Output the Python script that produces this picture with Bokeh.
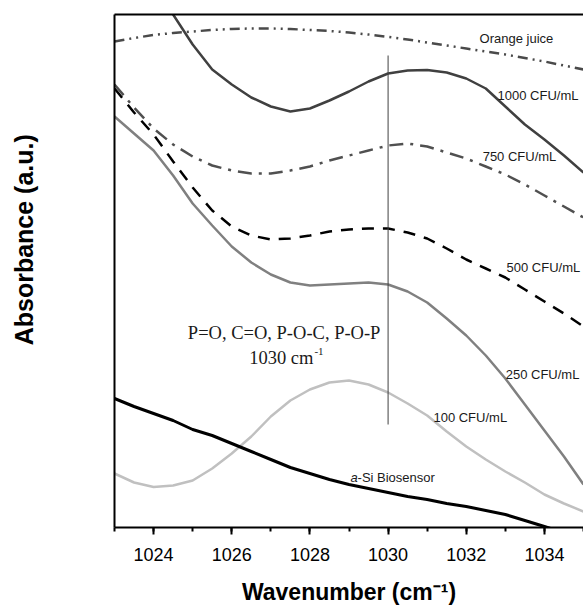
from bokeh.plotting import figure
from bokeh.models import Range1d, SingleIntervalTicker, FixedTicker, LinearAxis, ColumnDataSource
from bokeh.core.properties import value
from bokeh.embed import file_html
from bokeh.resources import INLINE

# ---------------- data (absorbance, arbitrary units) ----------------
wavenumber = [1023.0, 1023.5, 1024.0, 1024.5, 1025.0, 1025.5, 1026.0, 1026.5, 1027.0,
              1027.5, 1028.0, 1028.5, 1029.0, 1029.5, 1030.0, 1030.5, 1031.0, 1031.5,
              1032.0, 1032.5, 1033.0, 1033.5, 1034.0, 1034.5, 1035.0]

orange_juice = [4.86, 4.895, 4.925, 4.945, 4.96, 4.975, 4.985, 4.99, 4.99, 4.985, 4.975,
                4.965, 4.95, 4.93, 4.906, 4.88, 4.85, 4.82, 4.79, 4.76, 4.73, 4.695,
                4.66, 4.62, 4.58]

wavenumber_1000 = [1024.25, 1024.5, 1025.0, 1025.5, 1026.0, 1026.5, 1027.0, 1027.5, 1028.0,
                   1028.5, 1029.0, 1029.5, 1030.0, 1030.5, 1031.0, 1031.5, 1032.0, 1032.5,
                   1033.0, 1033.5, 1034.0, 1034.5, 1035.0]
cfu_1000 = [5.30, 5.13, 4.83, 4.58, 4.43, 4.30, 4.21, 4.16, 4.19, 4.27, 4.36, 4.46, 4.54,
            4.57, 4.575, 4.55, 4.49, 4.39, 4.21, 4.03, 3.88, 3.72, 3.55]

cfu_750 = [4.43, 4.20, 3.99, 3.83, 3.71, 3.62, 3.57, 3.54, 3.54, 3.57, 3.61, 3.67, 3.72,
           3.77, 3.82, 3.84, 3.81, 3.75, 3.69, 3.61, 3.53, 3.43, 3.32, 3.21, 3.10]

cfu_500 = [4.39, 4.15, 3.93, 3.66, 3.40, 3.17, 3.01, 2.92, 2.88, 2.89, 2.92, 2.96, 2.98,
           2.99, 2.99, 2.95, 2.89, 2.79, 2.68, 2.59, 2.50, 2.38, 2.26, 2.14, 2.01]

cfu_250 = [4.11, 3.94, 3.77, 3.52, 3.24, 3.02, 2.81, 2.65, 2.53, 2.45, 2.42, 2.43, 2.44,
           2.45, 2.43, 2.36, 2.25, 2.09, 1.92, 1.72, 1.49, 1.23, 0.97, 0.71, 0.43]

cfu_100 = [0.54, 0.45, 0.405, 0.42, 0.47, 0.59, 0.74, 0.91, 1.11, 1.27, 1.38, 1.45, 1.47,
           1.43, 1.35, 1.24, 1.12, 0.96, 0.81, 0.68, 0.56, 0.45, 0.33, 0.24, 0.16]

wavenumber_asi = [1023.0, 1023.5, 1024.0, 1024.5, 1025.0, 1025.5, 1026.0, 1026.5, 1027.0,
                  1027.5, 1028.0, 1028.5, 1029.0, 1029.5, 1030.0, 1030.5, 1031.0, 1031.5,
                  1032.0, 1032.5, 1033.0, 1033.5, 1034.0, 1034.4]
a_si = [1.29, 1.21, 1.14, 1.07, 0.98, 0.92, 0.84, 0.76, 0.68, 0.60, 0.54, 0.48, 0.43,
        0.39, 0.35, 0.31, 0.28, 0.24, 0.21, 0.17, 0.13, 0.07, 0.01, -0.04]

marker_x = [1030.0, 1030.0]
marker_y = [1.03, 4.72]

label_x = [1032.34, 1032.80, 1032.42, 1033.03, 1033.01, 1031.16]
label_y = [4.89, 4.32, 3.71, 2.60, 1.53, 1.10]
label_text = ["Orange juice", "1000 CFU/mL", "750 CFU/mL", "500 CFU/mL", "250 CFU/mL", "100 CFU/mL"]

asi_label_x = [1029.04]
asi_label_y = [0.50]

band_x = [1027.34]
band_y = [1.95]
band_text = ["P=O, C=O, P-O-C, P-O-P"]
band_pos_x = [1028.09]
band_pos_y = [1.70]

# ---------------- figure ----------------
SANS = value("Liberation Sans")
SERIF = value("Liberation Serif")

p = figure(width=583, height=607, x_range=Range1d(1023, 1035), y_range=Range1d(0, 5.13),
           output_backend="svg", toolbar_location=None,
           min_border_left=114, min_border_right=0, min_border_top=14, min_border_bottom=80)
p.outline_line_color = None
p.xgrid.visible = False
p.ygrid.visible = False
p.background_fill_color = "white"
p.border_fill_color = "white"

xa = p.xaxis[0]
xa.ticker = SingleIntervalTicker(interval=2, num_minor_ticks=2)
xa.axis_line_width = 2
xa.axis_line_color = "black"
xa.major_tick_line_width = 2
xa.minor_tick_line_width = 2
xa.major_tick_out = 7
xa.major_tick_in = 0
xa.minor_tick_out = 4
xa.minor_tick_in = 0
xa.major_label_text_font = "Liberation Sans"
xa.major_label_text_font_size = "18px"
xa.major_label_text_color = "black"
xa.major_label_standoff = 13
xa.axis_label = "Wavenumber (cm\u207b\u00b9)"
xa.axis_label_text_font = "Liberation Sans"
xa.axis_label_text_font_size = "23px"
xa.axis_label_text_font_style = "bold"
xa.axis_label_text_color = "black"
xa.axis_label_standoff = 15

ya = p.yaxis[0]
ya.ticker = FixedTicker(ticks=[])
ya.axis_line_width = 2
ya.axis_line_color = "black"
ya.major_tick_out = 0
ya.minor_tick_out = 0
ya.major_label_text_font_size = "0px"
ya.major_label_standoff = 0
# leading no-break spaces lift the centred title towards the top, as in the reference
ya.axis_label = "\u00a0" * 9 + "Absorbance (a.u.)"
ya.axis_label_text_font = "Liberation Sans"
ya.axis_label_text_font_size = "25px"
ya.axis_label_text_font_style = "bold"
ya.axis_label_text_color = "black"
ya.axis_label_standoff = 77

top = LinearAxis(ticker=FixedTicker(ticks=[]), axis_line_width=2, axis_line_color="black",
                 major_tick_out=0, minor_tick_out=0, major_label_text_font_size="0px",
                 major_label_standoff=0)
p.add_layout(top, "above")

# ---------------- curves ----------------
p.line(wavenumber, orange_juice, line_color="#4a4a4a", line_width=2.5, line_dash="10 5 2 5 2 5")
p.line(wavenumber_1000, cfu_1000, line_color="#404040", line_width=2.5)
p.line(wavenumber, cfu_750, line_color="#505050", line_width=2.5, line_dash="14 7 3 7")
p.line(wavenumber, cfu_500, line_color="black", line_width=2.5, line_dash="12 9")
p.line(wavenumber, cfu_250, line_color="#808080", line_width=2.5)
p.line(wavenumber, cfu_100, line_color="#c0c0c0", line_width=2.5)
p.line(wavenumber_asi, a_si, line_color="black", line_width=3)
p.line(marker_x, marker_y, line_color="#404040", line_width=1)

# ---------------- in-plot texts ----------------
src = ColumnDataSource(dict(x=label_x, y=label_y, t=label_text))
p.text("x", "y", text="t", source=src, text_font=SANS, text_font_size="13px",
       text_align="left", text_baseline="middle", text_color="#1a1a1a")

p.text(asi_label_x, asi_label_y, text=["a"], text_font=SANS, text_font_size="13px",
       text_font_style="italic", text_align="left", text_baseline="middle", text_color="#1a1a1a")
p.text(asi_label_x, asi_label_y, text=["-Si Biosensor"], x_offset=7, text_font=SANS,
       text_font_size="13px", text_align="left", text_baseline="middle", text_color="#1a1a1a")

p.text(band_x, band_y, text=band_text, text_font=SERIF, text_font_size="18.5px",
       text_align="center", text_baseline="middle", text_color="#1a1a1a")
p.text(band_pos_x, band_pos_y, text=["1030 cm"], text_font=SERIF, text_font_size="18.5px",
       text_align="right", text_baseline="middle", text_color="#1a1a1a")
p.text(band_pos_x, band_pos_y, text=["-1"], x_offset=1, y_offset=-6, text_font=SERIF,
       text_font_size="11px", text_align="left", text_baseline="middle", text_color="#1a1a1a")

open("out.html", "w").write(file_html(p, INLINE))
